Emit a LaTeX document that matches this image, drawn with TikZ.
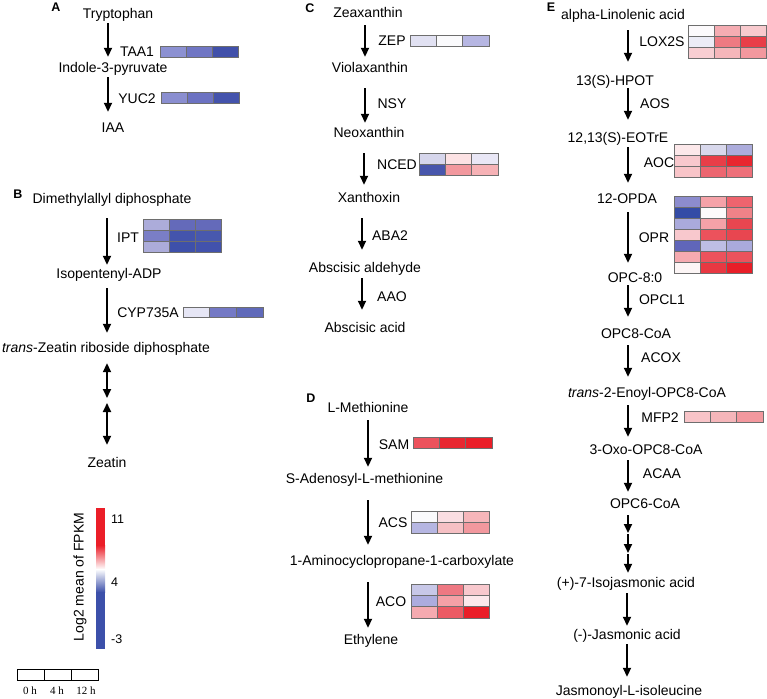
\documentclass[tikz,border=0pt]{standalone}
\usepackage{fontspec}
\setmainfont{Liberation Sans}
\newfontfamily\serifx{Liberation Serif}
\usetikzlibrary{arrows.meta}
\newcommand\hmrow[7]{%
  \definecolor{hmA}{RGB}{#5}\definecolor{hmB}{RGB}{#6}\definecolor{hmC}{RGB}{#7}%
  \filldraw[cell,fill=hmA] (#1,#2) rectangle ++(#3,#4);
  \filldraw[cell,fill=hmB] ({#1+#3},#2) rectangle ++(#3,#4);
  \filldraw[cell,fill=hmC] ({#1+2*#3},#2) rectangle ++(#3,#4);}
\definecolor{cbred}{RGB}{235,30,40}
\definecolor{cbblue}{RGB}{60,80,170}
\definecolor{cellline}{RGB}{110,110,110}
\begin{document}
\begin{tikzpicture}[x=1pt,y=-1pt,
  met/.style={inner sep=0pt, text height=10pt, text depth=3pt, font=\fontsize{14}{16}\selectfont},
  enz/.style={met},
  plab/.style={inner sep=0pt, anchor=base, font=\fontsize{12.5}{14}\selectfont\bfseries},
  leg/.style={inner sep=0pt, font=\fontsize{12.5}{14}\selectfont},
  tlab/.style={inner sep=0pt, font=\serifx\fontsize{11}{13}\selectfont},
  arr/.style={line width=1.8pt, -{Triangle[length=9pt,width=8pt]}},
  darr/.style={line width=1.8pt, {Triangle[length=9pt,width=8pt]}-{Triangle[length=9pt,width=8pt]}},
  cell/.style={draw=cellline, line width=0.5pt}
]
\useasboundingbox (0,0) rectangle (767,698);

% ---------------- Panel A
\node[plab] (labA) at (56,11.5) {A};
\node[met] (tryp) at (118,15.5) {Tryptophan};
\node[met] (indole) at (113,69.5) {Indole-3-pyruvate};
\node[met] (iaa) at (113,128.5) {IAA};
\node[enz] (taa1) at (137,53.5) {TAA1};
\node[enz] (yuc2) at (137,99.5) {YUC2};
\draw[arr, shorten <=1pt, shorten >=6pt] (tryp.south -| 108,0) -- (indole.north -| 108,0);
\draw[arr, shorten <=1pt, shorten >=10pt] (indole.south -| 108,0) -- (iaa.north -| 108,0);
\hmrow{160}{46}{26}{11}{140,145,210}{112,118,196}{65,80,170}
\hmrow{161}{92}{26}{11}{138,142,208}{108,114,194}{68,83,172}

% ---------------- Panel B
\node[plab] (labB) at (18,198.5) {B};
\node[met] (dma) at (112,199.5) {Dimethylallyl diphosphate};
\node[met] (ipa) at (109,274.5) {Isopentenyl-ADP};
\node[met] (tzr) at (106,348.5) {\textit{trans}-Zeatin riboside diphosphate};
\node[met] (zeatin) at (107,463.5) {Zeatin};
\node[enz] (ipt) at (128,238.5) {IPT};
\node[enz] (cyp) at (148,313.5) {CYP735A};
\coordinate (zmid) at (107,400.5);
\draw[arr, shorten <=12pt, shorten >=3pt] (dma.south -| 107,0) -- (ipa.north -| 107,0);
\draw[arr, shorten <=7pt, shorten >=9pt] (ipa.south -| 107,0) -- (tzr.north -| 107,0);
\draw[darr, shorten <=8pt, shorten >=2.5pt] (tzr.south -| 107,0) -- (zmid);
\draw[darr, shorten <=2.5pt, shorten >=12pt] (zmid) -- (zeatin.north -| 107,0);
\hmrow{143}{219}{26}{11}{172,172,218}{100,106,186}{100,106,186}
\hmrow{143}{230}{26}{11}{122,126,198}{68,84,172}{72,88,174}
\hmrow{143}{241}{26}{11}{172,172,218}{62,80,170}{66,82,172}
\hmrow{183}{307}{26.7}{10.5}{230,230,245}{116,121,197}{96,106,186}

% ---------------- Legend
\fill[cbred] (96,508) rectangle (105,545.5);
\shade[top color=cbred,bottom color=white] (96,545) rectangle (105,569.3);
\shade[top color=white,bottom color=cbblue] (96,569) rectangle (105,592.3);
\fill[cbblue] (96,592) rectangle (105,649);
\node[leg, anchor=west] (v11) at (111,519.5) {11};
\node[leg, anchor=west] (v4) at (111,582.5) {4};
\node[leg, anchor=west] (vm3) at (111,639.5) {-3};
\node[inner sep=0pt, rotate=90, font=\fontsize{14}{16}\selectfont] (loglab) at (80,577) {Log2 mean of FPKM};
\draw[line width=0.8pt] (17,669) rectangle (98,680);
\draw[line width=0.8pt] (44,669) -- (44,680);
\draw[line width=0.8pt] (71,669) -- (71,680);
\node[tlab] (t0) at (30,691) {0 h};
\node[tlab] (t4) at (57,691) {4 h};
\node[tlab] (t12) at (86,691) {12 h};

% ---------------- Panel C
\node[plab] (labC) at (310,12.5) {C};
\node[met] (zea) at (368,14.5) {Zeaxanthin};
\node[met] (viola) at (370,69.5) {Violaxanthin};
\node[met] (neo) at (369,133.5) {Neoxanthin};
\node[met] (xan) at (369,198.5) {Xanthoxin};
\node[met] (absald) at (365,268.5) {Abscisic aldehyde};
\node[met] (absacid) at (365,328.5) {Abscisic acid};
\node[enz] (zep) at (392,42.5) {ZEP};
\node[enz] (nsy) at (392,104.5) {NSY};
\node[enz] (nced) at (397,165.5) {NCED};
\node[enz] (aba2) at (390,236.5) {ABA2};
\node[enz] (aao) at (392,297.5) {AAO};
\draw[arr, shorten <=4pt, shorten >=6pt] (zea.south -| 365,0) -- (viola.north -| 365,0);
\draw[arr, shorten <=12pt, shorten >=4pt] (viola.south -| 365,0) -- (neo.north -| 365,0);
\draw[arr, shorten <=13pt, shorten >=7pt] (neo.south -| 364,0) -- (xan.north -| 364,0);
\draw[arr, shorten <=13pt, shorten >=12pt] (xan.south -| 362,0) -- (absald.north -| 362,0);
\draw[arr, shorten <=3pt, shorten >=12pt] (absald.south -| 362,0) -- (absacid.north -| 362,0);
\hmrow{410}{35}{26.3}{11}{225,225,242}{250,250,252}{182,182,226}
\hmrow{419}{153}{26.3}{11}{214,214,236}{252,226,228}{233,231,246}
\hmrow{419}{164}{26.3}{11}{72,86,172}{242,152,158}{246,178,182}

% ---------------- Panel D
\node[plab] (labD) at (311,402.5) {D};
\node[met] (lmet) at (368,408.5) {L-Methionine};
\node[met] (same) at (364.5,479.5) {S-Adenosyl-L-methionine};
\node[met] (acc) at (402,561.5) {1-Aminocyclopropane-1-carboxylate};
\node[met] (eth) at (371,640.5) {Ethylene};
\node[enz] (sam) at (394,445.5) {SAM};
\node[enz] (acs) at (393,523.5) {ACS};
\node[enz] (aco) at (391,602.5) {ACO};
\draw[arr, shorten <=5pt, shorten >=6pt] (lmet.south -| 368,0) -- (same.north -| 368,0);
\draw[arr, shorten <=14pt, shorten >=10pt] (same.south -| 368,0) -- (acc.north -| 368,0);
\draw[arr, shorten <=14pt, shorten >=6pt] (acc.south -| 368,0) -- (eth.north -| 368,0);
\hmrow{413}{437}{26.3}{11}{236,82,92}{232,38,48}{234,30,40}
\hmrow{411}{511}{26}{11}{250,250,252}{250,222,226}{246,182,186}
\hmrow{411}{522}{26}{11}{182,182,226}{246,192,196}{242,152,158}
\hmrow{411}{584}{26}{11.3}{200,200,232}{238,120,130}{248,200,205}
\hmrow{411}{595.3}{26}{11.3}{172,172,222}{245,160,166}{252,232,235}
\hmrow{411}{606.6}{26}{11.3}{245,170,176}{236,90,100}{234,30,40}

% ---------------- Panel E
\node[plab] (labE) at (551,11.5) {E};
\node[met] (ala) at (623,16.5) {alpha-Linolenic acid};
\node[met] (hpot) at (615,81.5) {13(S)-HPOT};
\node[met] (eotre) at (618,138.5) {12,13(S)-EOTrE};
\node[met] (opda) at (627,199.5) {12-OPDA};
\node[met] (opc80) at (635,278.5) {OPC-8:0};
\node[met] (opc8coa) at (636,334.5) {OPC8-CoA};
\node[met] (t2e) at (647,393.5) {\textit{trans}-2-Enoyl-OPC8-CoA};
\node[met] (oxo) at (646,450.5) {3-Oxo-OPC8-CoA};
\node[met] (opc6) at (645,504.5) {OPC6-CoA};
\node[met] (iso) at (626,583.5) {(+)-7-Isojasmonic acid};
\node[met] (ja) at (627,635.5) {(-)-Jasmonic acid};
\node[met] (jai) at (629,691.5) {Jasmonoyl-L-isoleucine};
\node[enz] (lox) at (662,43.5) {LOX2S};
\node[enz] (aos) at (655,104.5) {AOS};
\node[enz] (aoc) at (659,163.5) {AOC};
\node[enz] (opr) at (654,238.5) {OPR};
\node[enz] (opcl1) at (662,300.5) {OPCL1};
\node[enz] (acox) at (661,358.5) {ACOX};
\node[enz] (mfp2) at (660,418.5) {MFP2};
\node[enz] (acaa) at (662,474.5) {ACAA};
\coordinate (e1) at (628,533.5);
\coordinate (e2) at (628,553.5);
\draw[arr, shorten <=7pt, shorten >=13pt] (ala.south -| 628,0) -- (hpot.north -| 628,0);
\draw[arr, shorten <=0pt, shorten >=12pt] (hpot.south -| 628,0) -- (eotre.north -| 628,0);
\draw[arr, shorten <=2pt, shorten >=10pt] (eotre.south -| 628,0) -- (opda.north -| 628,0);
\draw[arr, shorten <=6pt, shorten >=9pt] (opda.south -| 628,0) -- (opc80.north -| 628,0);
\draw[arr, shorten <=0pt, shorten >=11pt] (opc80.south -| 628,0) -- (opc8coa.north -| 628,0);
\draw[arr, shorten <=4pt, shorten >=10pt] (opc8coa.south -| 628,0) -- (t2e.north -| 628,0);
\draw[arr, shorten <=5pt, shorten >=7pt] (t2e.south -| 628,0) -- (oxo.north -| 628,0);
\draw[arr, shorten <=3pt, shorten >=6pt] (oxo.south -| 628,0) -- (opc6.north -| 628,0);
\draw[arr, shorten <=4pt, shorten >=0.5pt] (opc6.south -| 628,0) -- (e1);
\draw[arr, shorten <=0.5pt, shorten >=0.5pt] (e1) -- (e2);
\draw[arr, shorten <=0.5pt, shorten >=4pt] (e2) -- (iso.north -| 628,0);
\draw[arr, shorten <=3pt, shorten >=3pt] (iso.south -| 627,0) -- (ja.north -| 627,0);
\draw[arr, shorten <=2pt, shorten >=8pt] (ja.south -| 627,0) -- (jai.north -| 627,0);
\hmrow{688}{25}{26}{11}{252,250,252}{245,172,178}{248,202,206}
\hmrow{688}{36}{26}{11}{236,236,246}{238,122,130}{232,62,72}
\hmrow{688}{47}{26}{11}{248,206,210}{245,182,186}{243,152,158}
\hmrow{674}{144}{26}{11}{252,232,234}{216,216,236}{172,172,220}
\hmrow{674}{155}{26}{11}{248,200,205}{232,62,72}{232,38,48}
\hmrow{674}{166}{26}{11}{248,196,200}{236,102,112}{238,112,122}
\hmrow{674}{196}{26}{11}{140,140,206}{245,162,168}{238,100,110}
\hmrow{674}{207}{26}{11}{52,76,166}{252,250,250}{240,130,136}
\hmrow{674}{218}{26}{11}{170,170,220}{245,162,168}{232,70,80}
\hmrow{674}{229}{26}{11}{248,200,205}{236,82,92}{232,70,80}
\hmrow{674}{240}{26}{11}{96,102,186}{190,190,228}{170,170,220}
\hmrow{674}{251}{26}{11}{245,170,176}{236,82,92}{236,82,92}
\hmrow{674}{262}{26}{11}{252,245,245}{232,56,66}{232,30,40}
\hmrow{684}{411}{26.3}{11}{248,196,200}{245,182,186}{243,152,158}
\end{tikzpicture}
\end{document}
